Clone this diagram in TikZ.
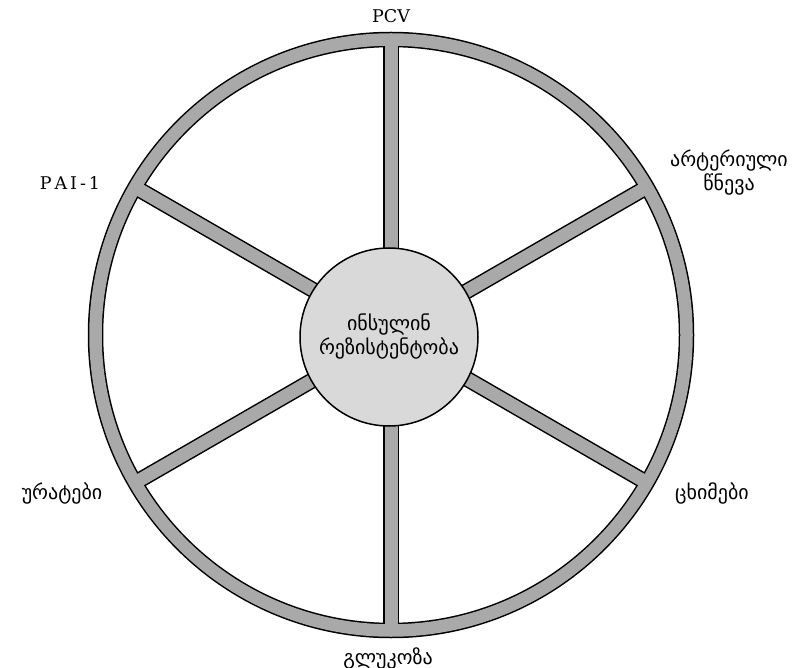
\documentclass[tikz,border=0pt]{standalone}
\usepackage{fontspec}
\setmainfont{DejaVu Serif}
\newfontfamily\geo{DejaVu Sans}
\definecolor{ringgray}{HTML}{A9A9A9}
\definecolor{hubgray}{HTML}{D9D9D9}
\begin{document}
\begin{tikzpicture}[x=1pt,y=-1pt,
  outline/.style={draw=black,line width=15.5},
  inner/.style={draw=ringgray,line width=12.5},
  spokeout/.style={draw=black,line width=16},
  spokein/.style={draw=ringgray,line width=13},
  lbl/.style={font=\geo\fontsize{20}{24}\selectfont,align=center,inner sep=0},
  latlbl/.style={font=\fontsize{17.5}{21}\selectfont,inner sep=0}]
\useasboundingbox (0,0) rectangle (798,668);
\coordinate (c) at (391,335);
\foreach \a in {90,30,-30,-90,-150,150}{
  \draw[spokeout] (c) -- ++(\a:295.5);
}
\draw[outline] (c) circle[radius=295.5];
\foreach \a in {90,30,-30,-90,-150,150}{
  \draw[spokein] (c) -- ++(\a:295.5);
}
\draw[inner] (c) circle[radius=295.5];
\node[circle,draw=black,line width=1.5,fill=hubgray,minimum size=178,lbl] (hub) at (389,337) {ინსულინ\\რეზისტენტობა};
\node[latlbl] (pcv) at (391,16) {PCV};
\node[latlbl] (pai) at (70,183) {P\,A\,I\,-\,1};
\node[lbl] (art) at (729,173) {არტერიული\\წნევა};
\node[lbl] (urat) at (62,493) {ურატები};
\node[lbl] (cxim) at (712,493) {ცხიმები};
\node[lbl] (glu) at (388,658) {გლუკოზა};
\end{tikzpicture}
\end{document}
